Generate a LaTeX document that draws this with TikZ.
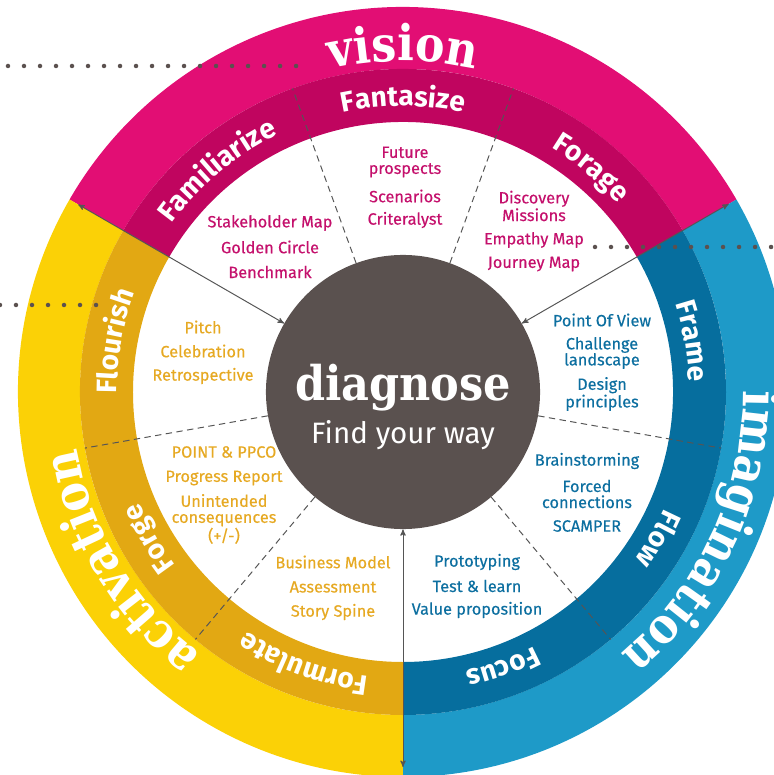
\documentclass[tikz,border=0pt]{standalone}
\usepackage{fontspec}
\setmainfont{Fira Sans}
\newfontfamily\slabfont{DejaVu Serif Condensed}
\newfontfamily\itemfont{Fira Sans}[FakeBold=0.35]
\usepackage{tikz}
\usetikzlibrary{arrows,decorations.text}

\definecolor{visionouter}{HTML}{E20E74}
\definecolor{visionband}{HTML}{C0055F}
\definecolor{activouter}{HTML}{FBD106}
\definecolor{activband}{HTML}{E2A813}
\definecolor{imagouter}{HTML}{1E9AC8}
\definecolor{imagband}{HTML}{066E9E}
\definecolor{hubbrown}{HTML}{5A514F}
\definecolor{visiontext}{HTML}{C4106C}
\definecolor{activtext}{HTML}{E6A923}
\definecolor{imagtext}{HTML}{0D6FA0}
\definecolor{linegray}{HTML}{555555}
\definecolor{dotgray}{HTML}{5B514F}

\newcommand{\bandfont}{\bfseries\fontsize{20}{20}\selectfont\color{white}}
\newcommand{\ringfont}{\slabfont\bfseries\fontsize{35}{35}\selectfont\color{white}}

\begin{document}
\begin{tikzpicture}
[x=0.025cm,y=0.025cm,>=stealth',
  hub node/.style={circle,fill=hubbrown,minimum size=6.85cm,inner sep=0pt},
  item node/.style={font=\itemfont\fontsize{11.6}{11.4}\selectfont,align=center,inner sep=1pt},
  vision item/.style={item node,text=visiontext},
  activ item/.style={item node,text=activtext},
  imag item/.style={item node,text=imagtext},
  band text/.style={decorate,decoration={text along path,text align=center,text={|\bandfont|#1}}},
  ring text/.style={decorate,decoration={text along path,text align=center,text={|\ringfont|#1}}},
  divider/.style={draw=linegray,line width=0.7pt,dash pattern=on 0.16cm off 0.11cm},
  arrow line/.style={<->,draw=linegray,line width=0.7pt},
  dot trail/.style={draw=dotgray,line width=3.2pt,line cap=round,dash pattern=on 0pt off 0.4cm}]

  \useasboundingbox (-403,-383) rectangle (371,392);
  \clip (-403,-383) rectangle (371,392);

  % outer ring and inner band, one colour pair per third
  \foreach \a/\b/\outer/\band in {30/150/visionouter/visionband,150/270/activouter/activband,-90/30/imagouter/imagband}{
    \fill[\outer] (\a:385) arc[start angle=\a,end angle=\b,radius=385] -- (\b:323) arc[start angle=\b,end angle=\a,radius=323] -- cycle;
    \fill[\band] (\a:323) arc[start angle=\a,end angle=\b,radius=323] -- (\b:270) arc[start angle=\b,end angle=\a,radius=270] -- cycle;
  }

  \node [hub node] (diag) at (0,0) {};

  % dashed cuts between the phases
  \foreach \ang in {110,70,350,310,230,190}{
    \coordinate (cut\ang) at (\ang:323);
    \draw [divider] (diag.\ang) -- (cut\ang);
  }

  \coordinate (visact) at (150:375);
  \coordinate (visimag) at (30:376);
  \coordinate (actimag) at (270:375);
  \foreach \from/\to in {diag/visact,diag/visimag,diag/actimag}
    \draw [arrow line] (\from) -- (\to);

  \node [font=\slabfont\bfseries\fontsize{34}{34}\selectfont,text=white,anchor=base] (diagword) at (0,-8) {diagnose};
  \node [font=\fontsize{21}{21}\selectfont,text=white,anchor=base] (findway) at (0,-51) {Find your way};

  % ring titles
  \path [ring text=vision] (150:331) arc[start angle=150,end angle=30,radius=331];
  \path [ring text=activation] (271:331) arc[start angle=271,end angle=151,radius=331];
  \path [ring text=imagination] (35:340) arc[start angle=35,end angle=-85,radius=340];

  % phase names in the band
  \path [band text=Familiarize] (175:286) arc[start angle=175,end angle=85,radius=286];
  \path [band text=Fantasize] (135:286) arc[start angle=135,end angle=45,radius=286];
  \path [band text=Forage] (95:286) arc[start angle=95,end angle=5,radius=286];
  \path [band text=Frame] (55:286) arc[start angle=55,end angle=-35,radius=286];
  \path [band text=Flow] (15:286) arc[start angle=15,end angle=-75,radius=286];
  \path [band text=Focus] (-25:286) arc[start angle=-25,end angle=-115,radius=286];
  \path [band text=Formulate] (295:286) arc[start angle=295,end angle=205,radius=286];
  \path [band text=Forge] (255:286) arc[start angle=255,end angle=165,radius=286];
  \path [band text=Flourish] (215:286) arc[start angle=215,end angle=125,radius=286];

  % tools per phase
  \node [vision item] (stakeholder) at (-133,169) {Stakeholder Map};
  \node [vision item] (golden) at (-133,145) {Golden Circle};
  \node [vision item] (benchmark) at (-133,120) {Benchmark};
  \node [vision item] (future) at (2,230) {Future\\prospects};
  \node [vision item] (scenarios) at (2,196) {Scenarios};
  \node [vision item] (criteralyst) at (2,172) {Criteralyst};
  \node [vision item] (discovery) at (131,186) {Discovery\\Missions};
  \node [vision item] (empathy) at (131,152) {Empathy Map};
  \node [vision item] (journey) at (131,128) {Journey Map};

  \node [imag item] (pov) at (199,72) {Point Of View};
  \node [imag item] (challenge) at (199,39) {Challenge\\landscape};
  \node [imag item] (design) at (199,-2) {Design\\principles};
  \node [imag item] (brainstorm) at (184,-69) {Brainstorming};
  \node [imag item] (forced) at (184,-102) {Forced\\connections};
  \node [imag item] (scamper) at (184,-134) {SCAMPER};
  \node [imag item] (prototyping) at (74,-170) {Prototyping};
  \node [imag item] (testlearn) at (74,-194) {Test \& learn};
  \node [imag item] (valueprop) at (74,-218) {Value proposition};

  \node [activ item] (pitch) at (-200,65) {Pitch};
  \node [activ item] (celebration) at (-200,41) {Celebration};
  \node [activ item] (retro) at (-200,16) {Retrospective};
  \node [activ item] (point) at (-179,-60) {POINT \& PPCO};
  \node [activ item] (progress) at (-179,-86) {Progress Report};
  \node [activ item] (unintended) at (-179,-127) {Unintended\\consequences\\(+/-)};
  \node [activ item] (business) at (-70,-170) {Business Model};
  \node [activ item] (assessment) at (-70,-195) {Assessment};
  \node [activ item] (storyspine) at (-70,-220) {Story Spine};

  % dotted leaders
  \coordinate (dotsTopA) at (-395,326);
  \coordinate (dotsTopB) at (-103,326);
  \coordinate (dotsLeftA) at (-403,87);
  \coordinate (dotsLeftB) at (-303,87);
  \coordinate (dotsRightA) at (192,145);
  \coordinate (dotsRightB) at (385,145);
  \foreach \from/\to in {dotsTopA/dotsTopB,dotsLeftA/dotsLeftB,dotsRightA/dotsRightB}
    \draw [dot trail] (\from) -- (\to);

\end{tikzpicture}
\end{document}
